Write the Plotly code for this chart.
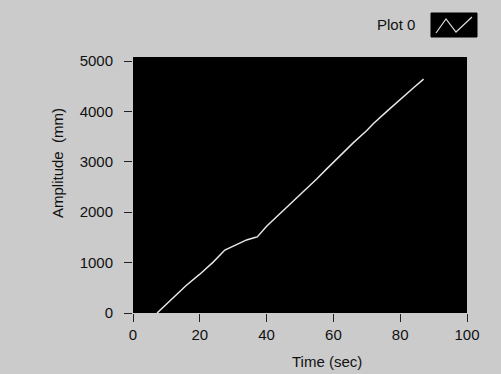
import plotly.graph_objects as go

# Data
time_sec = [7.2, 12, 16, 20, 24, 27.5, 30, 34, 36.5, 37.2, 40, 45, 50, 53, 55, 58,
            62, 66, 70, 72, 76, 80, 84, 87]
amplitude_mm = [0, 300, 550, 770, 1010, 1250, 1330, 1450, 1500, 1510, 1720, 2030,
                2330, 2520, 2660, 2860, 3130, 3380, 3620, 3760, 4000, 4240, 4470, 4640]

x_ticks = [0, 20, 40, 60, 80, 100]
y_ticks = [0, 1000, 2000, 3000, 4000, 5000]
legend_name = "Plot 0"

W, H = 501, 374
L, R, T, B = 133, 34, 57, 61

fig = go.Figure()
fig.add_trace(go.Scatter(x=time_sec, y=amplitude_mm, mode="lines",
                         line=dict(color="#e6e6e6", width=1.5),
                         name=legend_name, showlegend=False))

font = dict(family="Liberation Sans, Arial, sans-serif", size=15, color="#111111")

fig.update_layout(
    width=W, height=H,
    margin=dict(l=L, r=R, t=T, b=B, pad=0),
    paper_bgcolor="#cbcbcb",
    plot_bgcolor="#000000",
    font=font,
    xaxis=dict(range=[0, 100], tickvals=x_ticks, showgrid=False, zeroline=False,
               ticks="outside", ticklen=8, tickwidth=1, tickcolor="#222222",
               tickfont=font, fixedrange=True, showline=False),
    yaxis=dict(range=[0, 5080], tickvals=y_ticks, showgrid=False, zeroline=False,
               ticks="outside", ticklen=8, tickwidth=1, tickcolor="#222222",
               tickfont=font, ticklabelstandoff=8, fixedrange=True, showline=False),
    annotations=[
        dict(text="Time (sec)", xref="paper", yref="paper",
             x=(327 - L) / (W - L - R), y=-(361 - (H - B)) / (H - T - B),
             showarrow=False, font=font, xanchor="center", yanchor="middle"),
        dict(text="Amplitude  (mm)", xref="paper", yref="paper",
             x=-(L - 57) / (W - L - R), y=(H - B - 163) / (H - T - B),
             showarrow=False, font=font, textangle=-90,
             xanchor="center", yanchor="middle"),
        dict(text=legend_name, xref="paper", yref="paper",
             x=(396 - L) / (W - L - R), y=(H - B - 24) / (H - T - B),
             showarrow=False, font=font, xanchor="center", yanchor="middle"),
    ],
)

# legend swatch box (paper coords converted from pixels)
def px(xp):
    return (xp - L) / (W - L - R)

def py(yp):
    return (H - B - yp) / (H - T - B)

fig.add_shape(type="rect", xref="paper", yref="paper",
              x0=px(431), x1=px(477), y0=py(37), y1=py(13),
              fillcolor="#000000", line=dict(color="#000000", width=1))
icon = "M {} {} L {} {} L {} {} L {} {}".format(
    px(436), py(33), px(446), py(19), px(456), py(32), px(472), py(17))
fig.add_shape(type="path", xref="paper", yref="paper", path=icon,
              line=dict(color="#dddddd", width=1.2))

fig.write_html("out.html", config={"displayModeBar": False},
               post_script="document.body.style.margin='0';document.body.style.overflow='hidden';")
